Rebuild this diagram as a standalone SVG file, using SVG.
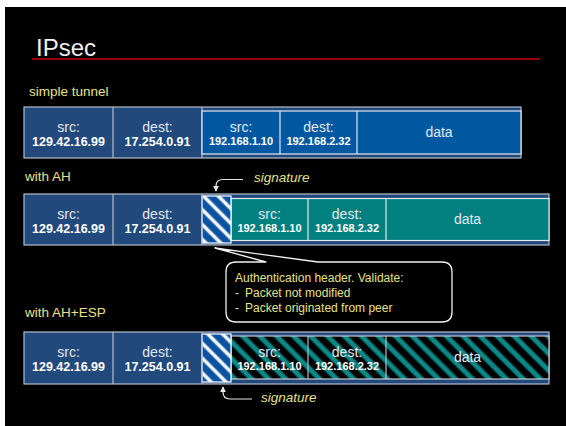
<svg xmlns="http://www.w3.org/2000/svg" width="566" height="426" viewBox="0 0 566 426">
<defs>
<style>
.row{fill:#21497b;stroke:#b4bccb;stroke-width:1.2}
.div{stroke:#b4bccb;stroke-width:1.2}
.pay{stroke:#e4e8f0;stroke-width:1.2}
.lab{font-family:"Liberation Sans",Arial,sans-serif;font-size:13.5px;fill:#e6e28a}
.sig{font-family:"Liberation Sans",Arial,sans-serif;font-size:13.5px;font-style:italic;fill:#e6e28a}
.t{font-family:"Liberation Sans",Arial,sans-serif;font-size:14px;fill:#e4e8f0;text-anchor:middle}
.ip{font-family:"Liberation Sans",Arial,sans-serif;font-size:12.5px;font-weight:bold;fill:#ffffff;text-anchor:middle}
.ip2{font-family:"Liberation Sans",Arial,sans-serif;font-size:11px;font-weight:bold;fill:#ffffff;text-anchor:middle}
.call{font-family:"Liberation Sans",Arial,sans-serif;font-size:12px;fill:#e6e28a}
.con{fill:none;stroke:#e8e8e8;stroke-width:1.2}
</style>
<linearGradient id="gSig" x1="0" y1="0" x2="1" y2="0">
<stop offset="0" stop-color="#0b53a0"/><stop offset="0.26" stop-color="#0b53a0"/><stop offset="0.42" stop-color="#ffffff"/><stop offset="0.58" stop-color="#ffffff"/><stop offset="0.74" stop-color="#0b53a0"/><stop offset="1" stop-color="#0b53a0"/>
</linearGradient>
<linearGradient id="gEsp" x1="0" y1="0" x2="1" y2="0">
<stop offset="0" stop-color="#000000"/><stop offset="0.2" stop-color="#000000"/><stop offset="0.38" stop-color="#0b8a88"/><stop offset="0.62" stop-color="#0b8a88"/><stop offset="0.8" stop-color="#000000"/><stop offset="1" stop-color="#000000"/>
</linearGradient>
<pattern id="pSig" patternUnits="userSpaceOnUse" width="10.5" height="20" patternTransform="rotate(-45)">
<rect width="10.5" height="20" fill="url(#gSig)"/>
</pattern>
<pattern id="pEsp" patternUnits="userSpaceOnUse" width="12" height="20" patternTransform="rotate(-45)">
<rect width="12" height="20" fill="url(#gEsp)"/>
</pattern>
<marker id="ah" viewBox="0 0 8 8" refX="7" refY="4" markerWidth="6" markerHeight="6" orient="auto" markerUnits="userSpaceOnUse">
<path d="M0,0 L8,4 L0,8 Z" fill="#e8e8e8"/>
</marker>
</defs>
<rect width="566" height="426" fill="#ffffff"/>
<rect x="5" y="7" width="561" height="419" fill="#000000"/>

<g id="title">
<text x="36" y="56" font-family="'Liberation Sans',Arial,sans-serif" font-size="24" fill="#f0f0f0">IPsec</text>
<line x1="32" y1="59" x2="540" y2="59" stroke="#cc0000" stroke-width="1.5"/>
</g>

<g id="labels">
<text class="lab" x="29" y="96">simple tunnel</text>
<text class="lab" x="25" y="181">with AH</text>
<text class="lab" x="25" y="317">with AH+ESP</text>
</g>

<g id="row-tunnel">
<rect class="row" x="24" y="107" width="497" height="51"/>
<line class="div" x1="113" y1="107" x2="113" y2="158"/>
<line class="div" x1="202" y1="107" x2="202" y2="158"/>
<rect class="pay" x="202" y="111" width="319" height="43" fill="#0157a0"/>
<line class="pay" x1="280" y1="111" x2="280" y2="154"/>
<line class="pay" x1="357" y1="111" x2="357" y2="154"/>
<text class="t" x="68.5" y="132">src:</text>
<text class="ip" x="68.5" y="145.5">129.42.16.99</text>
<text class="t" x="157.5" y="132">dest:</text>
<text class="ip" x="157.5" y="145.5">17.254.0.91</text>
<text class="t" x="241" y="132">src:</text>
<text class="ip2" x="241" y="145">192.168.1.10</text>
<text class="t" x="318.5" y="132">dest:</text>
<text class="ip2" x="318.5" y="145">192.168.2.32</text>
<text class="t" x="439" y="137">data</text>
</g>

<g id="row-ah">
<rect class="row" x="24" y="194" width="525" height="51"/>
<line class="div" x1="113" y1="194" x2="113" y2="245"/>
<rect class="pay" x="231" y="198.5" width="318" height="42" fill="#02807f"/>
<line class="pay" x1="308" y1="198.5" x2="308" y2="240.5"/>
<line class="pay" x1="386" y1="198.5" x2="386" y2="240.5"/>
<rect x="202" y="196" width="29" height="47" fill="url(#pSig)" stroke="#ffffff" stroke-width="1.2"/>
<line class="div" x1="202" y1="194" x2="202" y2="245"/>
<text class="t" x="68.5" y="219">src:</text>
<text class="ip" x="68.5" y="232.5">129.42.16.99</text>
<text class="t" x="157.5" y="219">dest:</text>
<text class="ip" x="157.5" y="232.5">17.254.0.91</text>
<text class="t" x="269.5" y="219">src:</text>
<text class="ip2" x="269.5" y="232">192.168.1.10</text>
<text class="t" x="347" y="219">dest:</text>
<text class="ip2" x="347" y="232">192.168.2.32</text>
<text class="t" x="467.5" y="224">data</text>
</g>

<g id="row-esp">
<rect class="row" x="24" y="332" width="525" height="52"/>
<line class="div" x1="113" y1="332" x2="113" y2="384"/>
<rect x="231" y="336" width="318" height="43" fill="url(#pEsp)" stroke="#c8ccd4" stroke-width="1.2"/>
<line class="div" x1="308" y1="336" x2="308" y2="379"/>
<line class="div" x1="386" y1="336" x2="386" y2="379"/>
<rect x="202" y="334" width="29" height="48" fill="url(#pSig)" stroke="#ffffff" stroke-width="1.2"/>
<line class="div" x1="202" y1="332" x2="202" y2="384"/>
<text class="t" x="68.5" y="357">src:</text>
<text class="ip" x="68.5" y="370.5">129.42.16.99</text>
<text class="t" x="157.5" y="357">dest:</text>
<text class="ip" x="157.5" y="370.5">17.254.0.91</text>
<text class="t" x="269.5" y="357">src:</text>
<text class="ip2" x="269.5" y="370">192.168.1.10</text>
<text class="t" x="347" y="357">dest:</text>
<text class="ip2" x="347" y="370">192.168.2.32</text>
<text class="t" x="467.5" y="362">data</text>
</g>

<g id="sig-ah">
<text class="sig" x="254" y="182">signature</text>
</g>
<g id="sig-esp">
<text class="sig" x="261" y="402">signature</text>
</g>

<g id="callout">
<path d="M318,262 L442,262 Q452,262 452,272 L452,312 Q452,322 442,322 L236,322 Q226,322 226,312 L226,272 Q226,262 236,262 L266,262 L215,248 Z" fill="#000000" stroke="#f0f0f0" stroke-width="1.3" stroke-linejoin="round"/>
<text class="call" x="235" y="282">Authentication header. Validate:</text>
<text class="call" y="297"><tspan x="235">-</tspan><tspan x="245">Packet not modified</tspan></text>
<text class="call" y="312"><tspan x="235">-</tspan><tspan x="245">Packet originated from peer</tspan></text>
</g>

<g id="connectors">
<path class="con" d="M243,179.5 L223,179.5 Q216,179.5 216,186 L216,191" marker-end="url(#ah)"/>
<path class="con" d="M252,399 L230,399 Q223,399 223,392 L223,387" marker-end="url(#ah)"/>
</g>
</svg>
